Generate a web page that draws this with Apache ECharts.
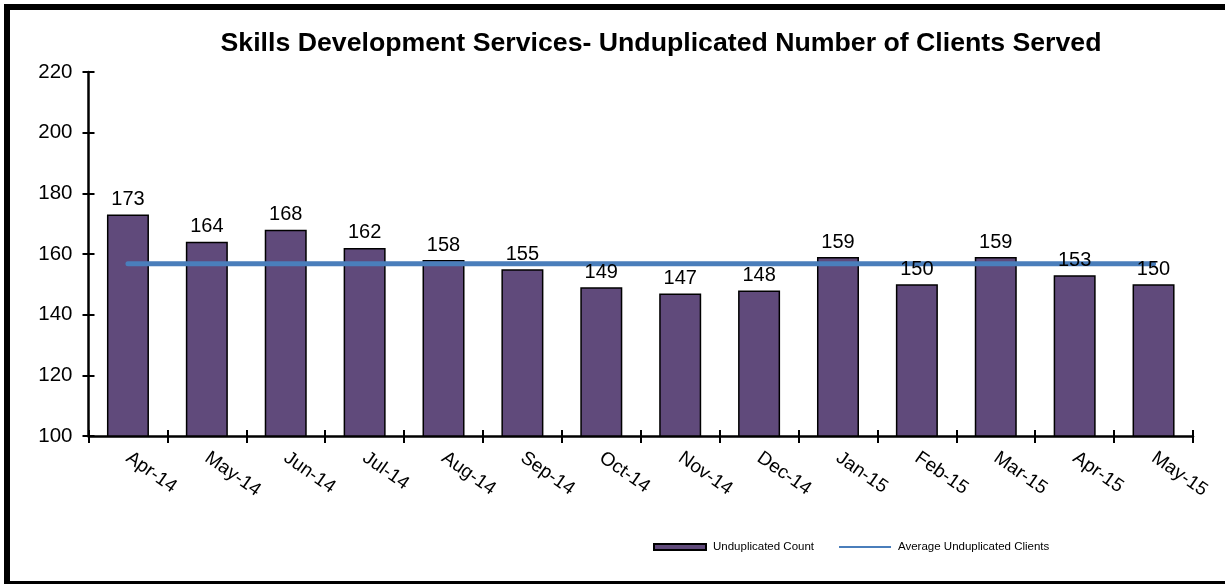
<!DOCTYPE html>
<html>
<head>
<meta charset="utf-8">
<script src="https://cdn.jsdelivr.net/npm/echarts@6/dist/echarts.min.js"></script>
<style>
  html, body { margin: 0; padding: 0; background: #fff; }
  #chart { width: 1225px; height: 584px; }
</style>
</head>
<body>
<div id="chart"></div>
<script>
// Monthly unduplicated client counts
const months = ['Apr-14', 'May-14', 'Jun-14', 'Jul-14', 'Aug-14', 'Sep-14', 'Oct-14',
                'Nov-14', 'Dec-14', 'Jan-15', 'Feb-15', 'Mar-15', 'Apr-15', 'May-15'];
const counts = [173, 164, 168, 162, 158, 155, 149, 147, 148, 159, 150, 159, 153, 150];
// Average over the period, drawn as a flat line
const averageValue = 156.8;
const averageLine = months.map(() => averageValue);
const yTicks = { min: 100, max: 220, step: 20 };

const font = '"Liberation Sans", Arial, sans-serif';
const chart = echarts.init(document.getElementById('chart'), null, { renderer: 'canvas' });

const axisLineStyle = { color: '#000', width: 2.5 };
const tickStyle = { color: '#000', width: 2 };

chart.setOption({
  backgroundColor: '#ffffff',
  animation: false,
  title: {
    text: 'Skills Development Services- Unduplicated Number of Clients Served',
    left: 656,
    textAlign: 'center',
    top: 25,
    textStyle: { fontFamily: font, fontSize: 26.7, fontWeight: 'bold', color: '#000' }
  },
  legend: {
    top: 536,
    left: 648,
    itemGap: 25,
    itemWidth: 52,
    itemHeight: 6,
    textStyle: { fontFamily: font, fontSize: 11.5, color: '#000', padding: [0, 0, 0, 2] },
    data: [
      { name: 'Unduplicated Count', icon: 'rect' },
      { name: 'Average Unduplicated Clients', icon: 'path://M0,0 L52,0 L52,2 L0,2 Z' }
    ]
  },
  grid: { left: 88.5, right: 32, top: 72, bottom: 148 },
  xAxis: [
    {
      type: 'category',
      data: months,
      axisLine: { lineStyle: axisLineStyle },
      axisTick: { show: true, length: 7, lineStyle: tickStyle },
      axisLabel: {
        rotate: -35,
        margin: 20,
        fontFamily: font,
        fontSize: 19,
        color: '#000'
      }
    },
    {
      // inner half of the crossing tick marks
      type: 'category',
      data: months,
      position: 'bottom',
      axisLine: { show: false },
      axisTick: { show: true, inside: true, length: 6, lineStyle: tickStyle },
      axisLabel: { show: false }
    }
  ],
  yAxis: [
    {
      type: 'value',
      min: yTicks.min,
      max: yTicks.max,
      interval: yTicks.step,
      splitLine: { show: false },
      axisLine: { show: true, lineStyle: axisLineStyle },
      axisTick: { show: true, length: 6, lineStyle: tickStyle },
      axisLabel: { margin: 16, fontFamily: font, fontSize: 20.5, color: '#000' }
    },
    {
      type: 'value',
      position: 'left',
      min: yTicks.min,
      max: yTicks.max,
      interval: yTicks.step,
      splitLine: { show: false },
      axisLine: { show: false },
      axisTick: { show: true, inside: true, length: 6, lineStyle: tickStyle },
      axisLabel: { show: false }
    }
  ],
  series: [
    {
      name: 'Unduplicated Count',
      type: 'bar',
      data: counts,
      barWidth: 42,
      z: 2,
      itemStyle: { color: '#604a7b', borderColor: '#000', borderWidth: 1.5 }
    },
    {
      name: 'Average Unduplicated Clients',
      type: 'line',
      data: averageLine,
      symbol: 'none',
      z: 3,
      itemStyle: { color: '#4a7ebb' },
      lineStyle: { color: '#4a7ebb', width: 5, cap: 'round' }
    },
    {
      // value labels, stacked above the average line
      name: 'Count labels',
      type: 'bar',
      data: counts,
      barWidth: 42,
      barGap: '-100%',
      z: 4,
      silent: true,
      itemStyle: { color: 'rgba(0,0,0,0)', borderWidth: 0 },
      label: {
        show: true,
        position: 'top',
        distance: 5,
        fontFamily: font,
        fontSize: 20,
        color: '#000'
      }
    }
  ],
  graphic: [
    // outer frame: heavy top and left edges, thin bottom edge
    { type: 'rect', shape: { x: 4, y: 4, width: 1240, height: 6 }, style: { fill: '#000' }, silent: true },
    { type: 'rect', shape: { x: 4, y: 4, width: 6, height: 580 }, style: { fill: '#000' }, silent: true },
    { type: 'rect', shape: { x: 4, y: 581, width: 1240, height: 3 }, style: { fill: '#000' }, silent: true }
  ]
});
</script>
</body>
</html>
